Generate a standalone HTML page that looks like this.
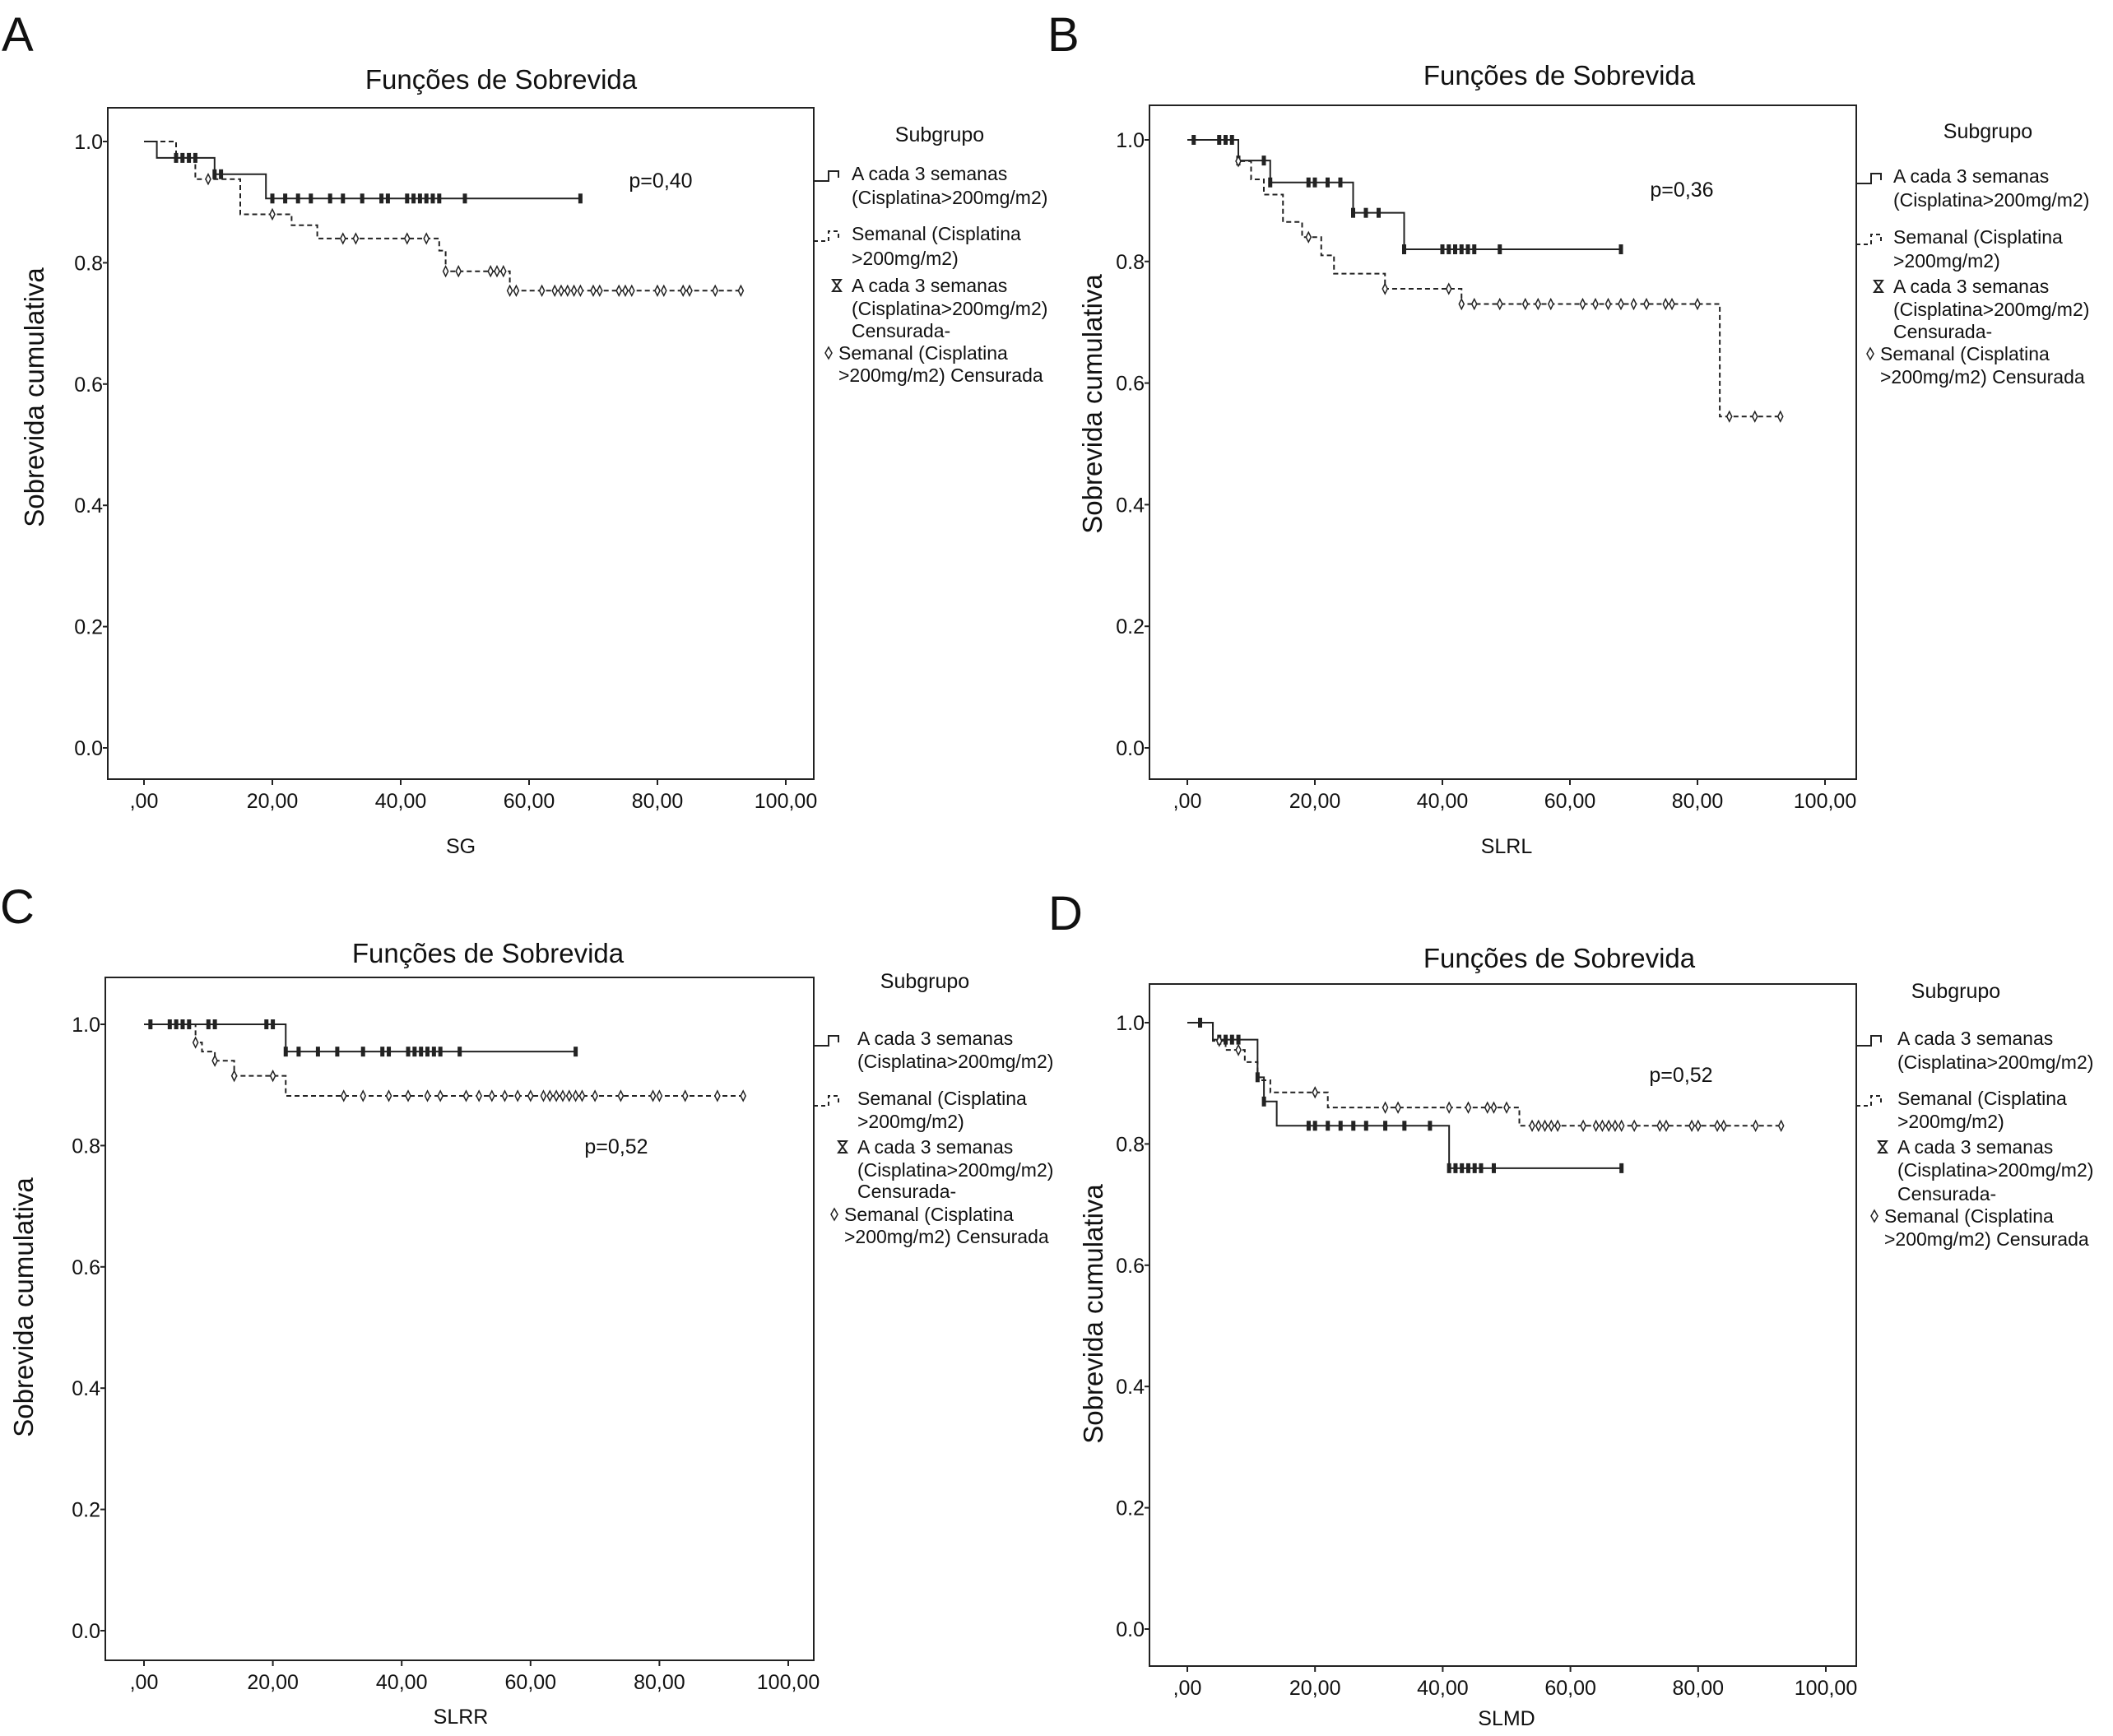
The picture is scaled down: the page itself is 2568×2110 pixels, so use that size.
<!DOCTYPE html>
<html><head><meta charset="utf-8"><style>
html,body{margin:0;padding:0;background:#fff}
svg text{font-family:"Liberation Sans",sans-serif;fill:#111}
</style></head><body>
<svg id="fig" width="2568" height="2105" viewBox="0 0 2568 2105" xmlns="http://www.w3.org/2000/svg"></svg>
<script>
// ---- data (time, survival) steps and censor times ----
const A_solidSteps=[[0,1.0],[2,0.973],[11,0.946],[19,0.906]];
const A_solidEnd=68;
const A_solidCens=[5,6,7,8,11,12,20,22,24,26,29,31,34,37,38,41,42,43,44,45,46,50,68];
const A_dashSteps=[[0,1.0],[5,0.973],[8,0.938],[15,0.88],[23,0.862],[27,0.84],[46,0.82],[47,0.786],[57,0.754]];
const A_dashEnd=93;
const A_dashCens=[10,20,31,33,41,44,47,49,54,55,56,57,58,62,64,65,66,67,68,70,71,74,75,76,80,81,84,85,89,93];

const B_solidSteps=[[0,1.0],[8,0.966],[13,0.93],[26,0.88],[34,0.82]];
const B_solidEnd=68;
const B_solidCens=[1,5,6,7,8,12,13,19,20,22,24,26,28,30,34,40,41,42,43,44,45,49,68];
const B_dashSteps=[[0,1.0],[8,0.965],[10,0.935],[12,0.91],[15,0.865],[18,0.84],[21,0.81],[23,0.78],[31,0.755],[43,0.73],[83.5,0.545]];
const B_dashEnd=93;
const B_dashCens=[8,19,31,41,43,45,49,53,55,57,62,64,66,68,70,72,75,76,80,85,89,93];

const C_solidSteps=[[0,1.0],[22,0.955]];
const C_solidEnd=67;
const C_solidCens=[1,4,5,6,7,10,11,19,20,22,24,27,30,34,37,38,41,42,43,44,45,46,49,67];
const C_dashSteps=[[0,1.0],[8,0.97],[9,0.955],[11,0.94],[14,0.915],[22,0.882]];
const C_dashEnd=93;
const C_dashCens=[8,11,14,20,31,34,38,41,44,46,50,52,54,56,58,60,62,63,64,65,66,67,68,70,74,79,80,84,89,93];

const D_solidSteps=[[0,1.0],[4,0.972],[11,0.91],[12,0.87],[14,0.83],[41,0.76]];
const D_solidEnd=68;
const D_solidCens=[2,5,6,7,8,11,12,19,20,22,24,26,28,31,34,38,41,42,43,44,45,46,48,68];
const D_dashSteps=[[0,1.0],[4,0.97],[6,0.955],[9,0.935],[11,0.905],[13,0.885],[22,0.86],[52,0.83]];
const D_dashEnd=93;
const D_dashCens=[5,8,20,31,33,41,44,47,48,50,54,55,56,57,58,62,64,65,66,67,68,70,74,75,79,80,83,84,89,93];

const xTicks=[0,20,40,60,80,100];
const xTickLabels=[",00","20,00","40,00","60,00","80,00","100,00"];
const yTicks=[0,0.2,0.4,0.6,0.8,1.0];
const yTickLabels=["0.0","0.2","0.4","0.6","0.8","1.0"];
const legendLines=["A cada 3 semanas","(Cisplatina>200mg/m2)","Semanal (Cisplatina",">200mg/m2)","A cada 3 semanas","(Cisplatina>200mg/m2)","Censurada-","Semanal (Cisplatina",">200mg/m2) Censurada"];

const NS="http://www.w3.org/2000/svg";
const svg=document.getElementById('fig');
function mk(tag,attrs,parent){const e=document.createElementNS(NS,tag);for(const k in attrs)e.setAttribute(k,attrs[k]);(parent||svg).appendChild(e);return e;}
function txt(s,x,y,size,anchor,parent){const t=mk('text',{x:x,y:y,'font-size':size,'text-anchor':anchor||'start'},parent);t.textContent=s;return t;}

const panels=[
 {id:'a',letter:'A',lx:2,ly:62,box:[131,131,989,947],x0:175,x100:955,y1:172,y0:909,title:[609,108],xt:'SG',xtp:[560,1037],yt:[41,483],p:'p=0,40',pp:[803,228],
  sub:[1142,172],legX:1035,legY:[219,248,292,322,355,383,410,437,464],
  ss:A_solidSteps,se:A_solidEnd,sc:A_solidCens,ds:A_dashSteps,de:A_dashEnd,dc:A_dashCens},
 {id:'b',letter:'B',lx:1273,ly:62,box:[1397,128,2256,947],x0:1443,x100:2218,y1:170,y0:909,title:[1895,103],xt:'SLRL',xtp:[1831,1037],yt:[1327,491],p:'p=0,36',pp:[2044,239],
  sub:[2416,168],legX:2301,legY:[222,251,296,325,356,384,411,438,466],
  ss:B_solidSteps,se:B_solidEnd,sc:B_solidCens,ds:B_dashSteps,de:B_dashEnd,dc:B_dashCens},
 {id:'c',letter:'C',lx:0,ly:1122,box:[128,1188,989,2018],x0:175,x100:958,y1:1245,y0:1982,title:[593,1170],xt:'SLRR',xtp:[560,2095],yt:[28,1589],p:'p=0,52',pp:[749,1402],
  sub:[1124,1201],legX:1042,legY:[1270,1298,1343,1371,1402,1430,1456,1484,1511],
  ss:C_solidSteps,se:C_solidEnd,sc:C_solidCens,ds:C_dashSteps,de:C_dashEnd,dc:C_dashCens},
 {id:'d',letter:'D',lx:1274,ly:1130,box:[1397,1196,2256,2025],x0:1443,x100:2219,y1:1243,y0:1980,title:[1895,1176],xt:'SLMD',xtp:[1831,2097],yt:[1328,1597],p:'p=0,52',pp:[2043,1315],
  sub:[2377,1213],legX:2306,legY:[1270,1299,1343,1371,1402,1430,1459,1486,1514],
  ss:D_solidSteps,se:D_solidEnd,sc:D_solidCens,ds:D_dashSteps,de:D_dashEnd,dc:D_dashCens}
];

function survAt(steps,t){let v=steps[0][1];for(const s of steps){if(s[0]<=t)v=s[1];}return v;}

panels.forEach(P=>{
  const g=mk('g',{});
  
  
  const X=v=>P.x0+(P.x100-P.x0)*v/100;
  const Y=v=>P.y0+(P.y1-P.y0)*v;
  const L=txt(P.letter,P.lx,P.ly,58,'start',g);
  
  
  const T=txt('Funções de Sobrevida',P.title[0],P.title[1],33,'middle',g);
  
  
  const b=P.box;
  const r=mk('rect',{x:b[0],y:b[1],width:b[2]-b[0],height:b[3]-b[1],fill:'none',stroke:'#222','stroke-width':2},g);
  
  
  // y ticks
  yTicks.forEach((v,i)=>{
    const yy=Y(v);
    mk('line',{x1:b[0]-6,y1:yy,x2:b[0],y2:yy,stroke:'#222','stroke-width':2},g);
    const t=txt(yTickLabels[i],b[0]-6,yy+9,25,'end',g);
    
    
  });
  xTicks.forEach((v,i)=>{
    const xx=X(v);
    mk('line',{x1:xx,y1:b[3],x2:xx,y2:b[3]+7,stroke:'#222','stroke-width':2},g);
    const t=txt(xTickLabels[i],xx,b[3]+35,25,'middle',g);
    
    
  });
  const xt=txt(P.xt,P.xtp[0],P.xtp[1],25,'middle',g);
  
  
  const yt=txt('Sobrevida cumulativa',0,0,33,'middle',g);
  yt.setAttribute('transform','translate('+(P.yt[0]+12)+','+P.yt[1]+') rotate(-90)');
  
  
  const pv=txt(P.p,P.pp[0],P.pp[1],25,'middle',g);
  
  
  // curves
  function curve(steps,end,dash,name){
    let d='M'+X(steps[0][0])+','+Y(steps[0][1]);
    for(let i=1;i<steps.length;i++){d+=' H'+X(steps[i][0])+' V'+Y(steps[i][1]);}
    d+=' H'+X(end);
    const p=mk('path',{d:d,fill:'none',stroke:'#222','stroke-width':2,'stroke-dasharray':dash?'6,4':'none'},g);
    
    
  }
  curve(P.ss,P.se,false,'curve-3-weekly');
  curve(P.ds,P.de,true,'curve-weekly');
  P.sc.forEach(t=>{
    const x=X(t),y=Y(survAt(P.ss,t));
    const m=mk('rect',{x:x-2.5,y:y-6,width:5,height:12,fill:'#222'},g);
    
    
  });
  P.dc.forEach(t=>{
    const x=X(t),y=Y(survAt(P.ds,t));
    const m=mk('path',{d:'M'+x+','+(y-6)+' L'+(x+3)+','+y+' L'+x+','+(y+6)+' L'+(x-3)+','+y+'Z',fill:'#fff',stroke:'#222','stroke-width':1.5},g);
    
    
  });
  // legend
  const lg=mk('g',{},g);
  
  
  const st=txt('Subgrupo',P.sub[0],P.sub[1],25,'middle',lg);
  
  
  legendLines.forEach((s,i)=>{
    let x=P.legX;
    if(i>=7)x=P.legX-16;
    if(i===6)x=P.legX;
    const t=txt(s,x,P.legY[i],23,'start',lg);
    
    
  });
  const lx=b[2], y1=P.legY[0]-5, y2=P.legY[2]-5;
  mk('path',{d:'M'+lx+','+(y1+6)+' H'+(lx+18)+' V'+(y1-6)+' H'+(lx+30)+' V'+(y1+2),fill:'none',stroke:'#222','stroke-width':2},lg);
  mk('path',{d:'M'+lx+','+(y2+6)+' H'+(lx+18)+' V'+(y2-6)+' H'+(lx+30)+' V'+(y2+2),fill:'none',stroke:'#222','stroke-width':2,'stroke-dasharray':'5,4'},lg);
  const hy=P.legY[4]-8, hx=P.legX-18;
  mk('path',{d:'M'+(hx-5)+','+(hy-7)+' H'+(hx+5)+' L'+(hx-5)+','+(hy+7)+' H'+(hx+5)+'Z',fill:'none',stroke:'#222','stroke-width':2},lg);
  const dy=P.legY[7]-8, dx=P.legX-28;
  mk('path',{d:'M'+dx+','+(dy-7)+' L'+(dx+4)+','+dy+' L'+dx+','+(dy+7)+' L'+(dx-4)+','+dy+'Z',fill:'#fff',stroke:'#222','stroke-width':1.5},lg);
});
</script>
</body></html>
